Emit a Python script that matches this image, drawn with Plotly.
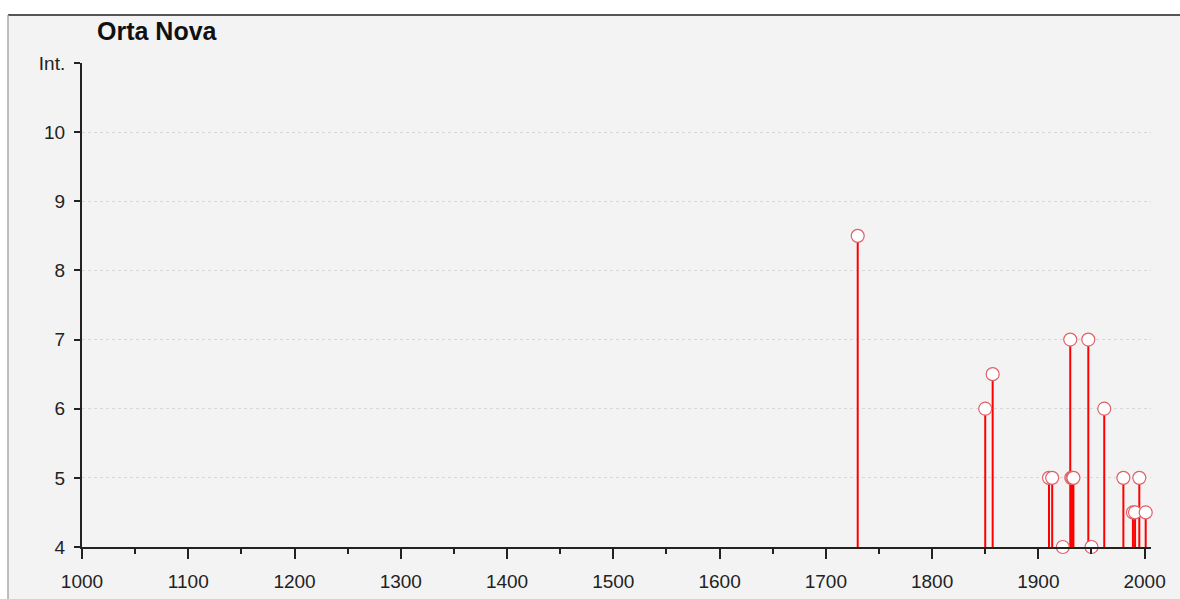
import plotly.graph_objects as go

# ---- data ----
station = "Orta Nova"
years = [1730, 1850, 1857, 1910, 1913, 1923, 1930, 1931, 1932, 1933,
         1947, 1950, 1962, 1980, 1989, 1991, 1995, 2001]
intensity = [8.5, 6, 6.5, 5, 5, 4, 7, 5, 5, 5,
             7, 4, 6, 5, 4.5, 4.5, 5, 4.5]
x_ticks = list(range(1000, 2001, 100))
x_minor = list(range(1050, 2000, 100))
y_ticks = [4, 5, 6, 7, 8, 9, 10, 11]
y_ticktext = ["4", "5", "6", "7", "8", "9", "10", "Int."]
y_base = 4

# ---- layout constants ----
W, H = 1180, 599
ML, MR, MT, MB = 82, 29, 63, 52
pw, ph = W - ML - MR, H - MT - MB
FONT = "Liberation Sans, Arial, sans-serif"
INK = "#222222"

# stems built from the data
sx, sy = [], []
for yr, v in zip(years, intensity):
    sx += [yr, yr, None]
    sy += [y_base, v, None]

fig = go.Figure()
fig.add_trace(go.Scatter(x=sx, y=sy, mode="lines",
                         line=dict(color="#ff0000", width=2),
                         hoverinfo="skip", showlegend=False))
fig.add_trace(go.Scatter(x=years, y=intensity, mode="markers",
                         marker=dict(symbol="circle", size=13, color="white",
                                     line=dict(color="#e0606a", width=1.2)),
                         showlegend=False, cliponaxis=False))

def px_x(p):
    return (p - ML) / pw

def px_y(p):
    return (H - MB - p) / ph

fig.update_layout(
    width=W, height=H,
    margin=dict(l=ML, r=MR, t=MT, b=MB, autoexpand=False),
    paper_bgcolor="white",
    plot_bgcolor="rgba(0,0,0,0)",
    font=dict(family=FONT, size=19, color=INK),
    title=dict(text="<b>" + station + "</b>", xref="container", yref="container",
               x=97 / W, xanchor="left", y=1 - 31 / H, yanchor="middle",
               font=dict(family=FONT, size=25, color="#111111")),
    shapes=[
        dict(type="rect", xref="paper", yref="paper", layer="below",
             x0=px_x(8), x1=px_x(W + 5), y0=px_y(H + 5), y1=px_y(15),
             fillcolor="#f3f3f3", line=dict(width=0)),
        dict(type="line", xref="paper", yref="paper",
             x0=px_x(8), x1=px_x(W + 5), y0=px_y(15), y1=px_y(15),
             line=dict(color="#555555", width=2)),
        dict(type="line", xref="paper", yref="paper",
             x0=px_x(8), x1=px_x(8), y0=px_y(15), y1=px_y(H + 5),
             line=dict(color="#aaaaaa", width=1.5)),
    ],
    xaxis=dict(range=[1000, 2006], tickvals=x_ticks, showgrid=False,
               automargin=False,
               zeroline=False, showline=True, linecolor=INK, linewidth=2,
               ticks="outside", ticklen=10, tickwidth=2, tickcolor=INK,
               ticklabelstandoff=6,
               minor=dict(tickvals=x_minor, ticks="outside", ticklen=5,
                          tickwidth=2, tickcolor=INK, showgrid=False)),
    yaxis=dict(range=[4, 11], tickvals=y_ticks, ticktext=y_ticktext,
               automargin=False,
               showgrid=True, gridcolor="#d8d8d8", griddash="dot", gridwidth=1,
               zeroline=False, showline=True, linecolor=INK, linewidth=2,
               ticks="outside", ticklen=6, tickwidth=2, tickcolor=INK,
               ticklabelstandoff=5),
)

fig.write_html(
    "out.html",
    config={"displayModeBar": False},
    post_script="document.body.style.margin='0';"
                "document.body.style.overflow='hidden';",
)
